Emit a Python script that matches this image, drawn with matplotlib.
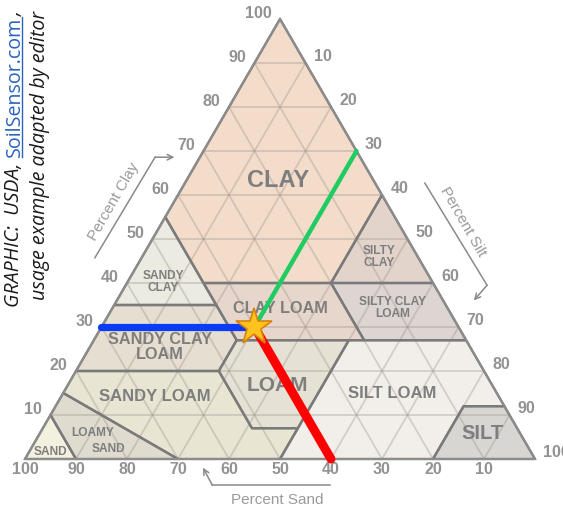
import numpy as np
import matplotlib
matplotlib.use('Agg')
import matplotlib.pyplot as plt
from matplotlib.patches import Polygon
from matplotlib.lines import Line2D

# USDA texture classes, corners given as (sand, silt, clay) in percent
clay_pts = [(0, 0, 100), (0, 40, 60), (20, 40, 40), (45, 15, 40), (45, 0, 55)]
silty_clay_pts = [(0, 40, 60), (0, 60, 40), (20, 40, 40)]
sandy_clay_pts = [(45, 0, 55), (45, 20, 35), (65, 0, 35)]
clay_loam_pts = [(20, 40, 40), (45, 15, 40), (45, 28, 27), (20, 53, 27)]
silty_clay_loam_pts = [(0, 60, 40), (20, 40, 40), (20, 53, 27), (0, 73, 27)]
sandy_clay_loam_pts = [(65, 0, 35), (45, 20, 35), (45, 28, 27), (52, 28, 20), (80, 0, 20)]
loam_pts = [(52, 28, 20), (45, 28, 27), (23, 50, 27), (43, 50, 7), (52, 41, 7)]
silt_loam_pts = [(23, 50, 27), (0, 73, 27), (0, 88, 12), (8, 80, 12), (20, 80, 0), (50, 50, 0), (43, 50, 7)]
sandy_loam_pts = [(80, 0, 20), (52, 28, 20), (52, 41, 7), (43, 50, 7), (50, 50, 0), (70, 30, 0), (85, 0, 15)]
loamy_sand_pts = [(85, 0, 15), (70, 30, 0), (90, 10, 0), (90, 0, 10)]
sand_pts = [(90, 0, 10), (90, 10, 0), (100, 0, 0)]
silt_pts = [(8, 80, 12), (0, 88, 12), (0, 100, 0), (20, 80, 0)]

class_names = ['CLAY', 'SILTY\nCLAY', 'SANDY\nCLAY', 'CLAY LOAM', 'SILTY CLAY\nLOAM',
               'SANDY CLAY\nLOAM', 'LOAM', 'SILT LOAM', 'SANDY LOAM', 'LOAMY', 'SAND', 'SILT']
class_polys = [clay_pts, silty_clay_pts, sandy_clay_pts, clay_loam_pts, silty_clay_loam_pts,
               sandy_clay_loam_pts, loam_pts, silt_loam_pts, sandy_loam_pts, loamy_sand_pts,
               sand_pts, silt_pts]
class_colors = ['#f4dccb', '#e3d4cb', '#ecebe1', '#e7d6cc', '#ddd5d1',
                '#e6ded0', '#e5e2d5', '#f2efea', '#e8e5d3', '#dfdbcf',
                '#f3f0df', '#d8d6d3']
# label anchor (silt, clay) and font size
label_silt = [18, 46.5, 7, 33, 55, 13.7, 41, 64.5, 18.4, 10.4, 4.1, 86.7]
label_clay = [63.4, 46, 40.2, 34.1, 34.3, 25.5, 16.8, 15, 14.1, 5.9, 1.6, 5.9]
label_size = [17, 8.6, 8.6, 11.7, 8.6, 11.7, 15, 12, 12, 8.6, 8.6, 14.5]
extra_label = ('SAND', 15.3, 2.3)  # second word of LOAMY SAND

ticks = [10, 20, 30, 40, 50, 60, 70, 80, 90, 100]

# example sample: 40% sand, 30% silt, 30% clay
sample_sand, sample_silt, sample_clay = 40, 30, 30

H = np.sqrt(3) / 2


def tern(silt, clay):
    return silt + clay / 2.0, clay * H


fig = plt.figure(figsize=(5.63, 5.09), dpi=100)
ax = fig.add_axes([0, 0, 1, 1])
ax.set_xlim(-25 / 5.1, 538 / 5.1)
sy = 440 / (100 * H)
ax.set_ylim(-50 / sy, 459 / sy)
ax.axis('off')

# fills
for pts, col in zip(class_polys, class_colors):
    xy = [tern(p[1], p[2]) for p in pts]
    ax.add_patch(Polygon(xy, closed=True, facecolor=col, edgecolor='none', zorder=1))

# 10% grid
for k in range(10, 100, 10):
    segs = [(tern(0, k), tern(100 - k, k)),
            (tern(k, 0), tern(k, 100 - k)),
            (tern(100 - k, 0), tern(0, 100 - k))]
    for a, b in segs:
        ax.plot([a[0], b[0]], [a[1], b[1]], color='#9a8f88', alpha=0.35, lw=1.3, zorder=2)

# class borders
for pts in class_polys:
    xy = [tern(p[1], p[2]) for p in pts]
    ax.add_patch(Polygon(xy, closed=True, facecolor='none', edgecolor='#7a7a7a',
                         lw=1.7, zorder=3, joinstyle='round'))
outer = [tern(0, 0), tern(100, 0), tern(0, 100)]
ax.add_patch(Polygon(outer, closed=True, facecolor='none', edgecolor='#8c8c8c', lw=1.5, zorder=3))

# class labels
lab_font = dict(family='Liberation Sans', weight='bold', ha='center', va='center',
                color='#7e7e7e', zorder=4, linespacing=1.0)
for name, s, c, fs in zip(class_names, label_silt, label_clay, label_size):
    x, y = tern(s, c)
    ax.text(x, y, name, fontsize=fs, **lab_font)
x, y = tern(extra_label[1], extra_label[2])
ax.text(x, y, extra_label[0], fontsize=8.6, **lab_font)

# tick labels
tick_font = dict(family='Liberation Sans', weight='bold', color='#929292', fontsize=11.5)
for k in ticks:
    ax.annotate(str(k), tern(0, k), xytext=(-6, 3.8), textcoords='offset points',
                ha='right', va='center', **tick_font)
    ax.annotate(str(k), tern(k, 100 - k), xytext=(6, 5), textcoords='offset points',
                ha='left', va='center', **tick_font)
    ax.annotate(str(k), tern(100 - k, 0), xytext=(0, -2.5), textcoords='offset points',
                ha='center', va='top', **tick_font)

# axis titles with arrows
title_font = dict(family='Liberation Sans', color='#9a9a9a', fontsize=11)
arr = dict(arrowstyle='->', color='#8a8a8a', lw=1.1, shrinkA=0, shrinkB=0)
ax.plot([13.7, 25.5], [39.6, 59.4], color='#8a8a8a', lw=1.1)
ax.annotate('', xy=(29.3, 59.4), xytext=(25.5, 59.4), arrowprops=arr)
ax.text(17.5, 50.7, 'Percent Clay', rotation=60, ha='center', va='center', **title_font)
ax.plot([78.4, 90.6], [54.3, 34.2], color='#8a8a8a', lw=1.1)
ax.annotate('', xy=(88.0, 31.2), xytext=(90.6, 34.2), arrowprops=arr)
ax.text(85.8, 46.6, 'Percent Silt', rotation=-60, ha='center', va='center', **title_font)
ax.plot([59.8, 36.7], [-5.1, -5.1], color='#8a8a8a', lw=1.1)
ax.annotate('', xy=(34.9, -1.7), xytext=(36.7, -5.1), arrowprops=arr)
ax.text(49.4, -8.1, 'Percent Sand', ha='center', va='center', **title_font)

# sample lines
p0 = tern(sample_silt, sample_clay)
p_clay = tern(0, sample_clay)
p_silt = tern(sample_silt, 100 - sample_silt)
p_sand = tern(100 - sample_sand, 0)
ax.plot([p_clay[0], p0[0]], [p_clay[1], p0[1]], color='#0a3cf5', lw=5.2,
        solid_capstyle='round', zorder=5)
ax.plot([p0[0], p_silt[0]], [p0[1], p_silt[1]], color='#1fcc62', lw=3.2,
        solid_capstyle='round', zorder=5)
ax.plot([p0[0], p_sand[0]], [p0[1], p_sand[1]], color='#ff0000', lw=6.5,
        solid_capstyle='round', zorder=5)
ax.plot(p0[0], p0[1], marker='*', markersize=28, markerfacecolor='#ffc21e',
        markeredgecolor='#d9820a', markeredgewidth=1.2, zorder=6)

# credit text, rotated on the left
W, Hpx = 563, 509
fig.canvas.draw()
rend = fig.canvas.get_renderer()
cred_font = dict(family='Open Sans', fontsize=14.1, rotation=90, rotation_mode='anchor',
                 ha='left', va='baseline')
base_x = 19.5
y_px = 307
pieces = [('GRAPHIC:  USDA,', 'italic', '#1a1a1a', False, 5),
          ('SoilSensor.com', 'normal', '#2a62c0', True, 0),
          (',', 'italic', '#1a1a1a', False, 0)]
for txt, sty, col, under, gap in pieces:
    t = fig.text(base_x / W, 1 - y_px / Hpx, txt, style=sty, color=col, **cred_font)
    bb = t.get_window_extent(rend)
    if under:
        fig.add_artist(Line2D([(base_x + 2.5) / W] * 2, [bb.y0 / Hpx, bb.y1 / Hpx],
                              color=col, lw=1.0))
    y_px = Hpx - bb.y1 - 1 - gap
fig.text(45 / W, 1 - 300 / Hpx, 'usage example adapted by editor', style='italic',
         color='#1a1a1a', **cred_font)

fig.savefig('out.png', dpi=100)
